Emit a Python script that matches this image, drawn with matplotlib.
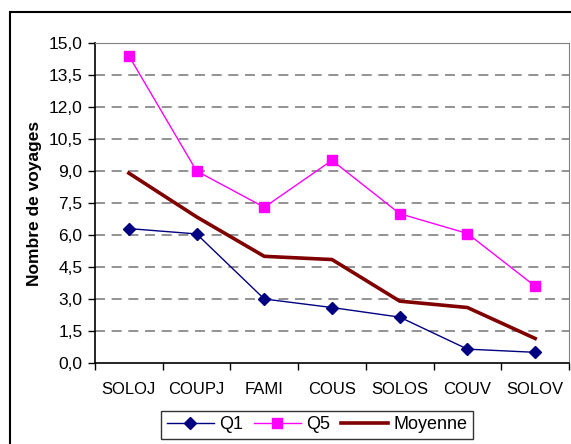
import numpy as np
import matplotlib.pyplot as plt
from matplotlib.patches import Rectangle
from matplotlib.ticker import FuncFormatter

plt.rcParams['font.family'] = ['Liberation Sans', 'DejaVu Sans']

# data
categories = ['SOLOJ', 'COUPJ', 'FAMI', 'COUS', 'SOLOS', 'COUV', 'SOLOV']
q1 = [6.3, 6.05, 3.0, 2.6, 2.15, 0.65, 0.5]
q5 = [14.4, 9.0, 7.3, 9.5, 7.0, 6.07, 3.6]
moyenne = [8.9, 6.85, 5.0, 4.85, 2.9, 2.6, 1.15]
yticks = np.arange(0, 15.01, 1.5)

fig = plt.figure(figsize=(5.71, 4.44), dpi=100)

# outer chart frame
fig.patches.append(Rectangle((10/571, -0.1), 1.2, 1 - 12/444 + 0.1, transform=fig.transFigure,
                             fill=False, edgecolor='black', linewidth=1.5, zorder=0))

ax = fig.add_axes([95/571, 1 - 363/444, 474/571, 320/444])
x = np.arange(len(categories))

ax.plot(x, q1, color='#000080', linewidth=1, marker='D', markersize=6.5, label='Q1', zorder=4)
ax.plot(x, q5, color='#FF00FF', linewidth=1, marker='s', markersize=7, label='Q5', zorder=4)
ax.plot(x, moyenne, color='#800000', linewidth=2.6, label='Moyenne', zorder=3)

ax.set_xlim(-0.5, len(categories) - 0.5)
ax.set_ylim(0, 15)
ax.set_yticks(yticks)
ax.yaxis.set_major_formatter(FuncFormatter(lambda v, p: ('%.1f' % v).replace('.', ',')))
ax.set_xticks(x)
ax.set_xticklabels(categories)
ax.set_xticks(np.arange(-0.5, len(categories)), minor=True)
ax.tick_params(axis='x', which='major', length=0, pad=14, labelsize=12)
ax.tick_params(axis='x', which='minor', length=5, width=1, direction='out')
ax.tick_params(axis='y', length=5, width=1, direction='out', labelsize=12.5, pad=4)

for y in yticks[1:]:
    ax.axhline(y, color='#808080', linestyle=(0, (6, 4)), linewidth=1.2, zorder=1)

ax.spines['top'].set_color('#808080')
ax.spines['right'].set_color('#808080')
ax.spines['left'].set_linewidth(1.2)
ax.spines['bottom'].set_linewidth(1.2)

ax.set_ylabel('Nombre de voyages', fontsize=12.5, fontweight='bold')
ax.yaxis.set_label_coords(-0.112, 0.5)

leg = fig.legend(loc='upper center', bbox_to_anchor=(317/571, 1 - 411/444), ncol=3,
                 frameon=True, fancybox=False, edgecolor='black', fontsize=13,
                 handlelength=2.6, handletextpad=0.3, columnspacing=0.6,
                 borderpad=0.3, borderaxespad=0)
leg.get_frame().set_linewidth(1)

fig.savefig('out.png', dpi=100)
